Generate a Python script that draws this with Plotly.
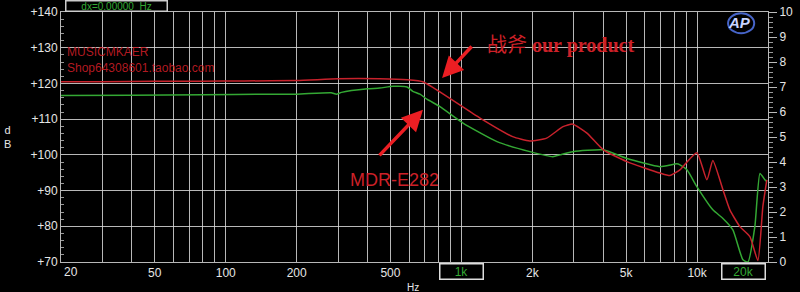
import math
import plotly.graph_objects as go

# ---------------- data ----------------
red_freq = [20, 30, 50, 80, 120, 200, 300, 450, 590, 690, 870, 1200, 1650, 1950, 2300,
            2700, 2970, 3410, 4000, 5040, 6960, 7670, 8460, 8710, 9980, 11010, 11670,
            12880, 13780, 15200, 16760, 18120, 19020, 19770]
red_db = [120.5, 120.5, 120.6, 120.6, 120.7, 120.8, 121.3, 121.3, 121.0, 120.4, 116.3,
          110.3, 105.1, 103.9, 104.7, 107.9, 108.6, 106.1, 101.4, 98.1, 94.9, 94.2, 95.8,
          96.7, 100.6, 93.0, 98.4, 90.2, 84.6, 79.9, 77.1, 70.4, 85.5, 93.0]

green_freq = [20, 40, 80, 150, 200, 280, 295, 310, 400, 450, 512, 588, 622, 667, 714, 811,
              1016, 1416, 1954, 2446, 2620, 2970, 3990, 5040, 6960, 8210, 8460, 9060, 9980,
              11670, 12880, 14190, 15660, 16440, 17590, 18490, 19400, 19770]
green_db = [116.6, 116.7, 116.8, 117.0, 117.0, 117.4, 117.0, 117.5, 118.5, 118.7, 119.2,
            119.0, 117.8, 117.0, 115.6, 113.5, 108.9, 103.7, 100.9, 99.5, 100.0, 100.9,
            101.4, 99.0, 96.7, 97.5, 97.2, 95.8, 91.1, 84.6, 82.2, 79.0, 70.6, 70.0, 79.9,
            94.8, 93.0, 92.5]

grid_freqs = [20, 30, 40, 50, 60, 70, 80, 90, 100, 200, 300, 400, 500, 600, 700, 800, 900,
              1000, 2000, 3000, 4000, 5000, 6000, 7000, 8000, 9000, 10000, 20000]
labeled_freqs = {50: "50", 100: "100", 200: "200", 500: "500", 2000: "2k", 5000: "5k",
                 10000: "10k"}
y_ticks = [70, 80, 90, 100, 110, 120, 130, 140]
right_ticks = [0, 1, 2, 3, 4, 5, 6, 7, 8, 9, 10]

RED = "rgb(200,34,44)"
GREEN = "rgb(52,168,52)"
TXT_RED = "rgb(205,32,40)"
GRID = "rgba(215,215,215,0.85)"
LABEL = "#e6e6e6"

fig = go.Figure()
fig.add_trace(go.Scatter(x=green_freq, y=green_db, mode="lines",
                         line=dict(color=GREEN, width=1.5, shape="spline", smoothing=0.5),
                         showlegend=False, hoverinfo="skip"))
fig.add_trace(go.Scatter(x=red_freq, y=red_db, mode="lines",
                         line=dict(color=RED, width=1.5, shape="spline", smoothing=0.5),
                         showlegend=False, hoverinfo="skip"))
# invisible trace to activate the right axis
fig.add_trace(go.Scatter(x=[20], y=[0], yaxis="y2", mode="markers",
                         marker=dict(opacity=0), showlegend=False, hoverinfo="skip"))

fig.update_layout(
    width=800, height=292,
    margin=dict(l=61, r=32, t=12, b=30, autoexpand=False),
    paper_bgcolor="black", plot_bgcolor="black",
    font=dict(family="Liberation Sans, Arial, sans-serif", color=LABEL, size=12),
    xaxis=dict(type="log", range=[math.log10(20), math.log10(20000)],
               tickvals=grid_freqs,
               ticktext=[labeled_freqs.get(f, "") for f in grid_freqs],
               showgrid=True, gridcolor=GRID, gridwidth=1,
               ticks="", tickfont=dict(size=12, color=LABEL),
               showline=True, linecolor=GRID, linewidth=1, mirror=True,
               zeroline=False, fixedrange=True, automargin=False),
    yaxis=dict(range=[70, 140], tickvals=y_ticks, tickformat="+d",
               showgrid=True, gridcolor=GRID, gridwidth=1,
               ticks="inside", ticklen=5, tickcolor="#bbbbbb",
               minor=dict(dtick=2, ticks="inside", ticklen=3, tickcolor="#999999",
                          showgrid=False),
               tickfont=dict(size=12, color=LABEL),
               showline=True, linecolor=GRID, linewidth=1,
               zeroline=False, fixedrange=True, automargin=False),
    yaxis2=dict(range=[0, 10], overlaying="y", side="right", tickvals=right_ticks,
                showgrid=False, ticks="outside", ticklen=8, tickcolor="#bbbbbb",
                minor=dict(dtick=0.2, ticks="outside", ticklen=4, tickcolor="#999999"),
                tickfont=dict(size=12, color=LABEL),
                showline=True, linecolor="#bbbbbb", linewidth=1,
                zeroline=False, fixedrange=True, automargin=False),
)

ann = []
# "20" label shifted right of the axis
ann.append(dict(x=math.log10(20), y=0, xref="x", yref="paper", text="20",
                showarrow=False, xanchor="left", yanchor="top", xshift=1, yshift=-1,
                font=dict(size=12, color=LABEL)))
# boxed 1k and 20k labels
ann.append(dict(x=math.log10(1000), y=0, xref="x", yref="paper", text="1k",
                showarrow=False, xanchor="center", yanchor="top", yshift=-1,
                width=40, height=12, bordercolor="#dddddd", borderwidth=1.5, borderpad=1,
                font=dict(size=12, color=GREEN)))
ann.append(dict(x=math.log10(20000), y=0, xref="x", yref="paper", text="20k",
                showarrow=False, xanchor="right", yanchor="top", yshift=-1, xshift=-2,
                width=40, height=12, bordercolor="#dddddd", borderwidth=1.5, borderpad=1,
                font=dict(size=12, color=GREEN)))
# top dx box
ann.append(dict(x=0.0055, y=1.0, xref="paper", yref="paper", text="dx=0.00000  Hz",
                showarrow=False, xanchor="left", yanchor="bottom",
                width=100, height=9, bordercolor="#cccccc", borderwidth=1.5, borderpad=0,
                font=dict(size=10, color=GREEN)))
# axis titles
ann.append(dict(x=-0.075, y=0.5, xref="paper", yref="paper", text="d<br>B",
                showarrow=False, xanchor="center", yanchor="middle",
                font=dict(size=11, color=LABEL)))
ann.append(dict(x=math.log10(1000), y=0, xref="x", yref="paper", text="Hz",
                showarrow=False, xanchor="center", yanchor="top", yshift=-18, xshift=-48,
                font=dict(size=10, color=LABEL)))
# watermark text
ann.append(dict(x=0.006, y=0.84, xref="paper", yref="paper", text="MUSICMKAER",
                showarrow=False, xanchor="left", yanchor="middle",
                font=dict(size=12, color="rgba(200,30,38,0.9)")))
ann.append(dict(x=0.006, y=0.776, xref="paper", yref="paper",
                text="Shop64308601.taobao.com",
                showarrow=False, xanchor="left", yanchor="middle",
                font=dict(size=12, color="rgba(200,30,38,0.9)")))
# product labels
ann.append(dict(x=0.6, y=0.868, xref="paper", yref="paper",
                text="战斧 <b>our product</b>", showarrow=False,
                xanchor="left", yanchor="middle",
                font=dict(size=20, color=TXT_RED,
                          family="Liberation Serif, Noto Sans CJK SC, serif")))
ann.append(dict(x=0.406, y=0.328, xref="paper", yref="paper",
                text="MDR-E282", showarrow=False,
                xanchor="left", yanchor="middle",
                font=dict(size=18, color=TXT_RED,
                          family="Liberation Sans, Arial, sans-serif")))
# arrows
ann.append(dict(x=2.918, y=121.5, xref="x", yref="y", text="", showarrow=True,
                ax=31, ay=-33, arrowhead=2, arrowsize=1.2, arrowwidth=3.5,
                arrowcolor="rgb(235,30,35)"))
ann.append(dict(x=2.837, y=112.6, xref="x", yref="y", text="", showarrow=True,
                ax=-45, ay=47, arrowhead=2, arrowsize=1.2, arrowwidth=3.5,
                arrowcolor="rgb(235,30,35)"))
# AP logo
ann.append(dict(x=0.96, y=0.96, xref="paper", yref="paper", text="<b><i>AP</i></b>",
                showarrow=False, xanchor="center", yanchor="middle",
                font=dict(size=15, color="#c8d4ff",
                          family="Liberation Sans, Arial, sans-serif")))
fig.update_layout(annotations=ann)
fig.add_shape(type="circle", xref="paper", yref="paper",
              x0=0.9435, x1=0.9805, y0=0.915, y1=0.995,
              line=dict(color="rgb(70,100,200)", width=2))

fig.write_html("out.html")
